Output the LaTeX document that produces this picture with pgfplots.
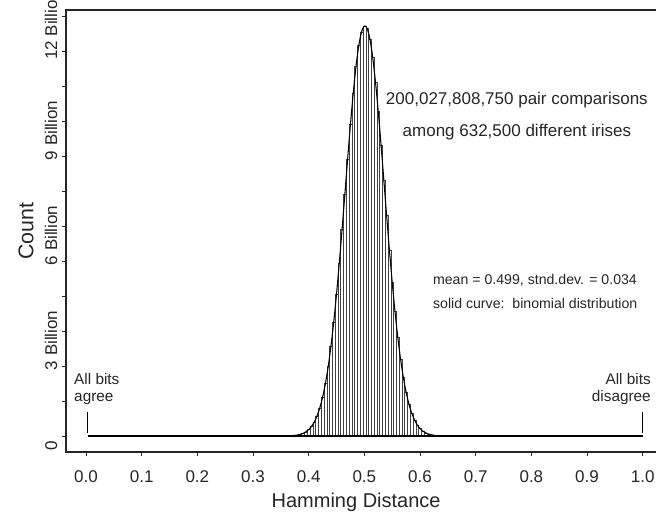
\documentclass[border=0pt]{standalone}
\usepackage{fontspec}
\setmainfont{Liberation Sans}
\usepackage{pgfplots}
\usepackage{pgfplotstable}
\pgfplotsset{compat=1.18}
\pgfplotstableread{
x y
0.345 0.0006
0.350 0.001
0.355 0.002
0.360 0.0035
0.365 0.0062
0.370 0.0106
0.375 0.018
0.380 0.0298
0.385 0.0483
0.390 0.0767
0.395 0.1195
0.400 0.182
0.405 0.2725
0.410 0.399
0.415 0.5725
0.420 0.805
0.425 1.109
0.430 1.498
0.435 1.981
0.440 2.567
0.445 3.258
0.450 4.054
0.455 4.941
0.460 5.901
0.465 6.906
0.470 7.918
0.475 8.894
0.480 9.790
0.485 10.557
0.490 11.155
0.495 11.549
0.500 11.715
0.505 11.644
0.510 11.339
0.515 10.818
0.520 10.114
0.525 9.265
0.530 8.314
0.535 7.312
0.540 6.300
0.545 5.319
0.550 4.399
0.555 3.565
0.560 2.831
0.565 2.202
0.570 1.678
0.575 1.254
0.580 0.918
0.585 0.658
0.590 0.462
0.595 0.318
0.600 0.2145
0.605 0.1418
0.610 0.0919
0.615 0.0583
0.620 0.0362
0.625 0.022
0.630 0.0131
0.635 0.0077
0.640 0.0044
0.645 0.0025
0.650 0.0014
0.655 0.0007
}\hist
\begin{document}
\begin{tikzpicture}
\begin{axis}[
  x=417.5pt, y=26.25pt,
  xmin=-0.036, xmax=1.03, ymin=-0.46, ymax=12.17,
  axis line style={line width=1pt, black!85},
  tick align=outside,
  xtick pos=bottom, ytick pos=left,
  major tick length=3pt, minor tick length=3pt,
  tick style={black!85, line width=0.6pt},
  xtick={0,0.1,0.2,0.3,0.4,0.5,0.6,0.7,0.8,0.9,1.0},
  xticklabels={0.0,0.1,0.2,0.3,0.4,0.5,0.6,0.7,0.8,0.9,1.0},
  ytick={0,3,6,9,12},
  yticklabels={0,3 Billion,6 Billion,9 Billion,12 Billion},
  minor ytick={1,2,4,5,7,8,10,11},
  ticklabel style={font=\fontsize{12.75}{15}\selectfont, text=black!85},
  xticklabel style={yshift=-7.5pt},
  yticklabel style={rotate=90, anchor=south, xshift=-7pt},
  xlabel={Hamming Distance},
  ylabel={Count},
  xlabel style={font=\fontsize{15}{18}\selectfont, text=black!85, at={(ticklabel cs:0.489)}, anchor=north, yshift=-1pt},
  ylabel style={font=\fontsize{16}{19}\selectfont, text=black!85},
  ylabel shift=1.5pt,
]
\addplot[ybar, bar width=0.005, bar shift=0pt, fill=white, draw=black!75, line width=0.35pt] table[x=x,y=y] {\hist};
\addplot[black, line width=0.8pt, smooth] table[x=x,y=y] {\hist};
\addplot[black, line width=0.8pt] coordinates {(0.003,0) (1.0,0)};
\addplot[black, line width=0.9pt] coordinates {(0.002,0.1) (0.002,0.68)};
\addplot[black, line width=0.9pt] coordinates {(1.0,0.1) (1.0,0.68)};
\node[font=\fontsize{12.75}{15}\selectfont, text=black!85] at (axis cs:0.774,9.6) {200,027,808,750 pair comparisons};
\node[font=\fontsize{12.75}{15}\selectfont, text=black!85] at (axis cs:0.774,8.686) {among 632,500 different irises};
\node[font=\fontsize{10.6}{13}\selectfont, text=black!85, anchor=west, inner sep=0pt] at (axis cs:0.623,4.457) {mean = 0.499, stnd.dev. = 0.034};
\node[font=\fontsize{10.6}{13}\selectfont, text=black!85, anchor=west, inner sep=0pt] at (axis cs:0.623,3.80) {solid curve:\ \ binomial distribution};
\node[font=\fontsize{11.5}{13.3}\selectfont, text=black!85, anchor=west, align=left, inner sep=0pt] at (axis cs:-0.0216,1.343) {All bits\\agree};
\node[font=\fontsize{11.5}{13.3}\selectfont, text=black!85, anchor=east, align=right, inner sep=0pt] at (axis cs:1.0149,1.343) {All bits\\disagree};
\coordinate (bbsw) at (axis cs:-0.15448,-2.1714);
\coordinate (bbne) at (axis cs:1.02389,12.457);
\end{axis}
\pgfresetboundingbox
\useasboundingbox (bbsw) rectangle (bbne);
\end{tikzpicture}
\end{document}
